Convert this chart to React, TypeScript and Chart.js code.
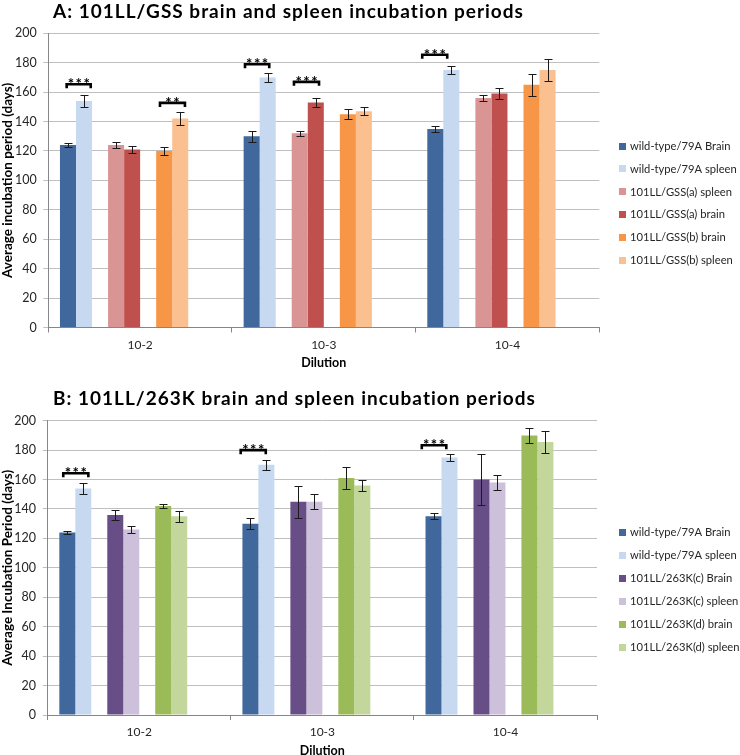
import React, { useEffect, useRef } from "react";
import { Chart, registerables } from "chart.js";

Chart.register(...registerables);

const FONT = "Lato, 'Open Sans', sans-serif";

// ---------- shared ----------
const categories = ["10-2", "10-3", "10-4"];
const xAxisTitle = "Dilution";
const yMin = 0;
const yMax = 200;
const yStep = 20;

// ---------- Panel A ----------
const titleA = "A: 101LL/GSS brain and spleen incubation periods";
const yTitleA = "Average incubation period (days)";
const namesA = [
  "wild-type/79A Brain",
  "wild-type/79A spleen",
  "101LL/GSS(a) spleen",
  "101LL/GSS(a) brain",
  "101LL/GSS(b) brain",
  "101LL/GSS(b) spleen",
];
const colorsA = ["#41689c", "#c6d9f1", "#d99594", "#c0504d", "#f79646", "#fac090"];
const wtBrainA = [124, 130, 135];
const wtSpleenA = [154, 170, 175];
const gssASpleen = [124, 132, 156];
const gssABrain = [121, 153, 159];
const gssBBrain = [120, 145, 165];
const gssBSpleen = [142, 147, 175];
const wtBrainAErr = [1.1, 3.6, 2.0];
const wtSpleenAErr = [4.0, 3.3, 2.6];
const gssASpleenErr = [2.2, 1.5, 2.0];
const gssABrainErr = [2.6, 3.3, 3.5];
const gssBBrainErr = [2.4, 3.4, 7.3];
const gssBSpleenErr = [4.3, 2.6, 7.3];
// significance brackets: x in category-axis units, y in days
const sigA = [
  { x0: -0.4, x1: -0.269, y: 165.4, label: "***" },
  { x0: 0.108, x1: 0.244, y: 152.7, label: "**" },
  { x0: 0.571, x1: 0.703, y: 179, label: "***" },
  { x0: 0.8375, x1: 0.974, y: 167, label: "***" },
  { x0: 1.536, x1: 1.672, y: 185.4, label: "***" },
];

// ---------- Panel B ----------
const titleB = "B: 101LL/263K brain and spleen incubation periods";
const yTitleB = "Average Incubation Period (days)";
const namesB = [
  "wild-type/79A Brain",
  "wild-type/79A spleen",
  "101LL/263K(c) Brain",
  "101LL/263K(c) spleen",
  "101LL/263K(d) brain",
  "101LL/263K(d) spleen",
];
const colorsB = ["#41689c", "#c6d9f1", "#684e87", "#ccc0da", "#9bbb59", "#c3d69b"];
const wtBrainB = [124, 130, 135];
const wtSpleenB = [154, 170, 175];
const k263cBrain = [136, 145, 160];
const k263cSpleen = [126, 145, 158];
const k263dBrain = [142, 161, 190];
const k263dSpleen = [135, 156, 185.5];
const wtBrainBErr = [1.3, 3.6, 2.0];
const wtSpleenBErr = [3.9, 3.5, 2.7];
const k263cBrainErr = [3.6, 10.8, 17.4];
const k263cSpleenErr = [2.3, 5.3, 5.3];
const k263dBrainErr = [1.6, 7.7, 5.0];
const k263dSpleenErr = [3.7, 3.9, 7.7];
const sigB = [
  { x0: -0.415, x1: -0.278, y: 164.3, label: "***" },
  { x0: 0.554, x1: 0.691, y: 180, label: "***" },
  { x0: 1.543, x1: 1.677, y: 183.3, label: "***" },
];

type Panel = {
  title: string;
  yTitle: string;
  names: string[];
  colors: string[];
  values: number[][];
  errors: number[][];
  sig: { x0: number; x1: number; y: number; label: string }[];
  geom: {
    height: number;
    top: number;
    left: number;
    right: number;
    xAxisH: number;
    titleY: number;
    legendY0: number;
    legendStep: number;
    xTitlePad: number;
  };
};

const panelA: Panel = {
  title: titleA,
  yTitle: yTitleA,
  names: namesA,
  colors: colorsA,
  values: [wtBrainA, wtSpleenA, gssASpleen, gssABrain, gssBBrain, gssBSpleen],
  errors: [wtBrainAErr, wtSpleenAErr, gssASpleenErr, gssABrainErr, gssBBrainErr, gssBSpleenErr],
  sig: sigA,
  geom: { height: 378, top: 33.3, left: 48.3, right: 599.3, xAxisH: 50.5, titleY: 18, legendY0: 146, legendStep: 22.95, xTitlePad: 7.5 },
};

const panelB: Panel = {
  title: titleB,
  yTitle: yTitleB,
  names: namesB,
  colors: colorsB,
  values: [wtBrainB, wtSpleenB, k263cBrain, k263cSpleen, k263dBrain, k263dSpleen],
  errors: [wtBrainBErr, wtSpleenBErr, k263cBrainErr, k263cSpleenErr, k263dBrainErr, k263dSpleenErr],
  sig: sigB,
  geom: { height: 390, top: 42.7, left: 47.7, right: 597, xAxisH: 53, titleY: 26.5, legendY0: 154.3, legendStep: 23, xTitlePad: 10 },
};

// slot layout inside each category: series, series, gap, series, series, gap, series, series, gap, gap
const slotPattern = [0, 1, -1, 2, 3, -1, 4, 5, -1, -1];

const errorBarPlugin = {
  id: "errorBars",
  afterDatasetsDraw(chart: any) {
    const ctx = chart.ctx;
    const ys = chart.scales.y;
    chart.data.datasets.forEach((ds: any, di: number) => {
      if (!ds.errors) return;
      const meta = chart.getDatasetMeta(di);
      meta.data.forEach((el: any, i: number) => {
        const v = ds.data[i];
        const e = ds.errors[i];
        if (v == null || e == null) return;
        const x = Math.round(el.x) + 0.5;
        const yt = Math.round(ys.getPixelForValue(v + e)) + 0.5;
        const yb = Math.round(ys.getPixelForValue(v - e)) + 0.5;
        ctx.save();
        ctx.strokeStyle = "#1a1a1a";
        ctx.lineWidth = 1;
        ctx.beginPath();
        ctx.moveTo(x, yt);
        ctx.lineTo(x, yb);
        ctx.moveTo(x - 4, yt);
        ctx.lineTo(x + 4, yt);
        ctx.moveTo(x - 4, yb);
        ctx.lineTo(x + 4, yb);
        ctx.stroke();
        ctx.restore();
      });
    });
  },
};

const decorPlugin = {
  id: "decor",
  afterDraw(chart: any, _args: any, opts: any) {
    const ctx = chart.ctx;
    const xs = chart.scales.x;
    const ys = chart.scales.y;
    ctx.save();
    // significance brackets
    (opts.sig || []).forEach((b: any) => {
      const x0 = xs.getPixelForValue(b.x0);
      const x1 = xs.getPixelForValue(b.x1);
      const y = ys.getPixelForValue(b.y);
      ctx.strokeStyle = "#000";
      ctx.lineWidth = 2.6;
      ctx.lineCap = "butt";
      ctx.lineJoin = "miter";
      ctx.beginPath();
      ctx.moveTo(x0, y + 4);
      ctx.lineTo(x0, y);
      ctx.lineTo(x1, y);
      ctx.lineTo(x1, y + 4);
      ctx.stroke();
      ctx.fillStyle = "#000";
      ctx.font = `bold 15px ${FONT}`;
      (ctx as any).letterSpacing = "1.5px";
      ctx.textAlign = "center";
      ctx.textBaseline = "alphabetic";
      ctx.fillText(b.label, (x0 + x1) / 2 + 0.75, y + 5);
      (ctx as any).letterSpacing = "0px";
    });
    // title
    ctx.fillStyle = "#000";
    ctx.font = `bold 19px ${FONT}`;
    (ctx as any).letterSpacing = "1px";
    ctx.textAlign = "left";
    ctx.textBaseline = "alphabetic";
    ctx.fillText(opts.title, 53, opts.titleY);
    (ctx as any).letterSpacing = "0px";
    // legend
    const items = chart.data.datasets.filter((d: any) => d.label);
    ctx.font = `11.2px ${FONT}`;
    ctx.textBaseline = "middle";
    items.forEach((d: any, i: number) => {
      const cy = opts.legendY0 + i * opts.legendStep;
      ctx.fillStyle = d.backgroundColor;
      ctx.fillRect(619, Math.round(cy - 3.5), 7, 7);
      ctx.fillStyle = "#262626";
      ctx.fillText(d.label, 630, cy);
    });
    ctx.restore();
  },
};

function buildConfig(p: Panel): any {
  const g = p.geom;
  const datasets = slotPattern.map((s) =>
    s < 0
      ? { label: "", data: [null, null, null], backgroundColor: "transparent" }
      : {
          label: p.names[s],
          data: p.values[s],
          errors: p.errors[s],
          backgroundColor: p.colors[s],
          borderWidth: 0,
        }
  );
  return {
    type: "bar",
    data: { labels: categories, datasets },
    plugins: [errorBarPlugin, decorPlugin],
    options: {
      responsive: false,
      animation: false,
      devicePixelRatio: 1,
      datasets: { bar: { barPercentage: 1, categoryPercentage: 0.873 } },
      layout: { padding: { top: g.top, left: 0, right: 740 - g.right, bottom: 0 } },
      plugins: {
        legend: { display: false },
        title: { display: false },
        tooltip: { enabled: false },
        decor: {
          sig: p.sig,
          title: p.title,
          titleY: g.titleY,
          legendY0: g.legendY0,
          legendStep: g.legendStep,
        },
      },
      scales: {
        x: {
          grid: { drawOnChartArea: false, drawTicks: true, tickLength: 5, color: "#868686", offset: true },
          border: { color: "#868686" },
          ticks: { padding: 5, color: "#262626", font: { family: FONT, size: 12 } },
          title: {
            display: true,
            text: xAxisTitle,
            color: "#000",
            font: { family: FONT, size: 12.5, weight: "bold" },
            padding: { top: 0, bottom: g.xTitlePad },
          },
          afterFit: (s: any) => {
            s.height = g.xAxisH;
          },
        },
        y: {
          min: yMin,
          max: yMax,
          ticks: { stepSize: yStep, padding: 6.6, color: "#262626", font: { family: FONT, size: 12.5 } },
          grid: { color: "#bfbfbf", tickLength: 5, drawTicks: true },
          border: { color: "#868686" },
          title: {
            display: true,
            text: p.yTitle,
            color: "#000",
            font: { family: FONT, size: 13.5, weight: "bold" },
            padding: { top: 0, bottom: 0 },
          },
          afterFit: (s: any) => {
            s.width = g.left;
          },
        },
      },
    },
  };
}

function PanelChart({ panel, top }: { panel: Panel; top: number }) {
  const ref = useRef<HTMLCanvasElement>(null);
  useEffect(() => {
    if (!ref.current) return;
    const chart = new Chart(ref.current, buildConfig(panel));
    return () => chart.destroy();
  }, [panel]);
  return (
    <canvas
      ref={ref}
      width={740}
      height={panel.geom.height}
      style={{ position: "absolute", left: 0, top, width: 740, height: panel.geom.height }}
    />
  );
}

export default function App() {
  return (
    <div
      style={{
        position: "absolute",
        left: 0,
        top: 0,
        width: 740,
        height: 755,
        overflow: "hidden",
        background: "#fff",
      }}
    >
      <PanelChart panel={panelA} top={0} />
      <PanelChart panel={panelB} top={378} />
    </div>
  );
}
